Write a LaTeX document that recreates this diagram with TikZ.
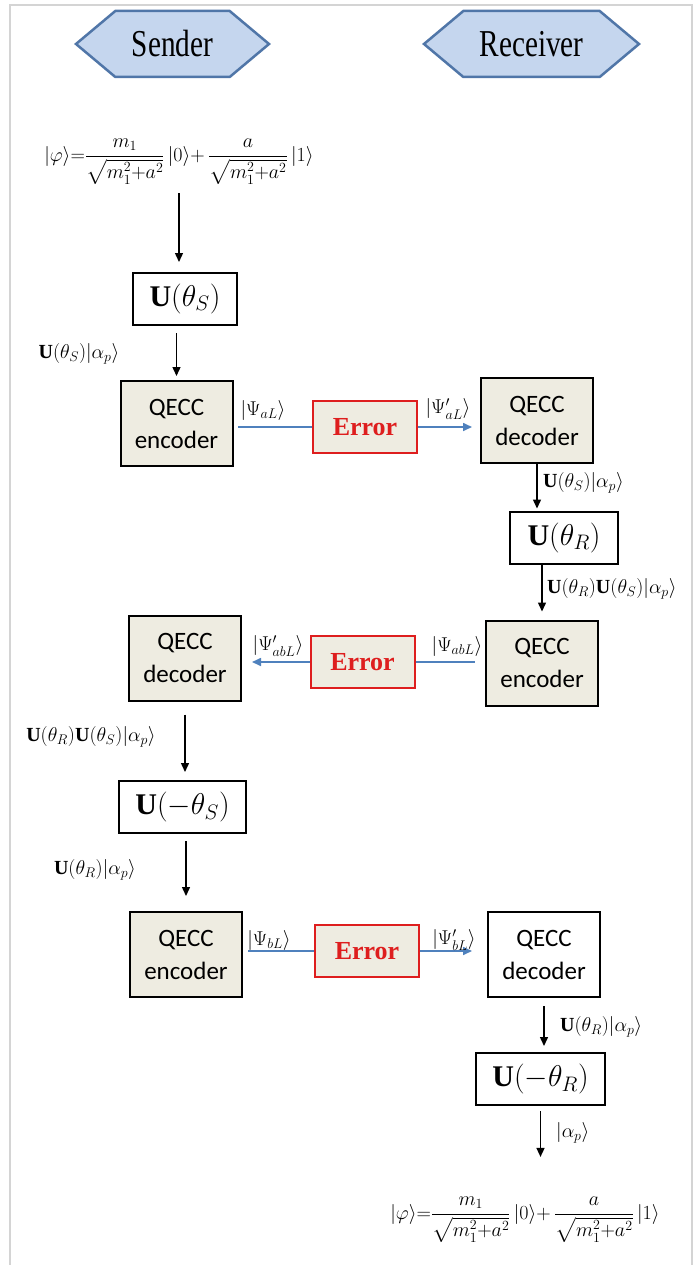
\RequirePackage{fix-cm}
\documentclass[tikz,border=0pt]{standalone}
\usepackage{amsmath}
\usepackage{fontspec}
\setmainfont{Liberation Serif}
\newfontfamily\calibri{Carlito}
\usetikzlibrary{arrows.meta,shapes.symbols,calc}

\definecolor{hexfill}{RGB}{197,214,238}
\definecolor{hexdraw}{RGB}{80,118,168}
\definecolor{beige}{RGB}{238,236,225}
\definecolor{errred}{RGB}{222,30,30}
\definecolor{linkblue}{RGB}{79,129,189}
\definecolor{framegray}{RGB}{212,212,212}

\begin{document}
\begin{tikzpicture}[x=1pt,y=-1pt,
  hexa/.style={signal, signal to=east and west, signal pointer angle=80,
    draw=hexdraw, fill=hexfill, line width=2.5pt, minimum height=66pt,
    inner sep=0pt, font=\fontsize{38}{40}\selectfont},
  box/.style={draw=black, line width=2pt, inner sep=0pt, align=center},
  qecc/.style={box, fill=beige, minimum width=112pt, minimum height=85pt,
    font=\calibri\fontsize{25}{33}\selectfont},
  qeccw/.style={qecc, fill=white},
  ubox/.style={box, fill=white, minimum height=52pt, font=\fontsize{30}{34}\selectfont},
  errbox/.style={draw=errred, line width=2pt, fill=beige, minimum width=104pt,
    minimum height=52pt, inner sep=0pt, text=errred, font=\bfseries\fontsize{26}{30}\selectfont},
  lbl/.style={inner sep=0pt, font=\fontsize{20}{23}\selectfont},
  formula/.style={inner sep=0pt, font=\fontsize{20}{23}\selectfont},
  arr/.style={draw=black, line width=1.4pt, -{Triangle[length=9pt,width=8pt]}},
  bline/.style={draw=linkblue, line width=1.6pt},
  barr/.style={bline, -{Triangle[length=9pt,width=8pt]}}
]
\useasboundingbox (0,0) rectangle (699,1265);
\fill[white] (0,0) rectangle (699,1265);
\draw[framegray, line width=2pt] (10,1265) -- (10,5) -- (692,5) -- (692,1265);

% headers
\node[hexa, minimum width=193pt] (sender) at (172.5,44) {\scalebox{0.77}[1]{Sender}};
\node[hexa, minimum width=215pt] (receiver) at (531.5,44) {\scalebox{0.77}[1]{Receiver}};

% formulas
\node[formula] (f1) at (179,162) {$|\varphi\rangle{=}\dfrac{m_1}{\sqrt{m_1^2{+}a^2}}\,|0\rangle{+}\,\dfrac{a}{\sqrt{m_1^2{+}a^2}}\,|1\rangle$};
\node[formula] (f2) at (525,1220) {$|\varphi\rangle{=}\dfrac{m_1}{\sqrt{m_1^2{+}a^2}}\,|0\rangle{+}\,\dfrac{a}{\sqrt{m_1^2{+}a^2}}\,|1\rangle$};

% boxes
\node[ubox, minimum width=104pt] (us) at (185,299) {$\mathbf{U}(\theta_S)$};
\node[qecc] (enc1) at (176.5,423.5) {QECC\\encoder};
\node[errbox] (err1) at (365,427) {Error};
\node[qecc] (dec1) at (537,420.5) {QECC\\decoder};
\node[ubox, minimum width=108pt] (ur) at (564,537.5) {$\mathbf{U}(\theta_R)$};
\node[qecc] (enc2) at (542,663) {QECC\\encoder};
\node[errbox] (err2) at (362.5,662) {Error};
\node[qecc] (dec2) at (185,658) {QECC\\decoder};
\node[ubox, minimum width=127pt] (uns) at (182.5,807) {$\mathbf{U}(-\theta_S)$};
\node[qecc] (enc3) at (186,954.5) {QECC\\encoder};
\node[errbox] (err3) at (367,951) {Error};
\node[qeccw] (dec3) at (544,954.5) {QECC\\decoder};
\node[ubox, minimum width=129pt] (unr) at (540.5,1079) {$\mathbf{U}(-\theta_R)$};

% vertical arrows
\draw[arr, shorten <=8pt, shorten >=10pt] (f1.south) -- (f1.south |- us.north);
\draw[arr, shorten <=7pt, shorten >=4pt] (us.south -| enc1.north) -- (enc1.north);
\draw[arr, shorten >=2pt] (dec1.south) -- (dec1.south |- ur.north);
\draw[arr, shorten >=8pt] (ur.south -| enc2.north) -- (enc2.north);
\draw[arr, shorten <=13pt, shorten >=8pt] (dec2.south) -- (dec2.south |- uns.north);
\draw[arr, shorten <=7pt, shorten >=15pt] (uns.south -| enc3.north) -- (enc3.north);
\draw[arr, shorten <=8pt, shorten >=6pt] (dec3.south) -- (dec3.south |- unr.north);
\draw[arr, shorten <=5pt, shorten >=40pt] (unr.south) -- (unr.south |- f2.north);

% horizontal links
\draw[bline, shorten >=4pt] (err1.west) -- (err1.west -| enc1.east);
\draw[barr, shorten >=8pt] (err1.east) -- (err1.east -| dec1.west);
\draw[bline, shorten >=10pt] (err2.east) -- (err2.east -| enc2.west);
\draw[barr, shorten >=10pt] (err2.west) -- (err2.west -| dec2.east);
\draw[bline, shorten >=5pt] (err3.west) -- (err3.west -| enc3.east);
\draw[barr, shorten >=15pt] (err3.east) -- (err3.east -| dec3.west);

% labels
\node[lbl] (l1) at (79,354) {$\mathbf{U}(\theta_S)|\alpha_p\rangle$};
\node[lbl, anchor=west] (l2) at (543,483) {$\mathbf{U}(\theta_S)|\alpha_p\rangle$};
\node[lbl, anchor=west] (l3) at (547,589) {$\mathbf{U}(\theta_R)\mathbf{U}(\theta_S)|\alpha_p\rangle$};
\node[lbl] (l4) at (91,737) {$\mathbf{U}(\theta_R)\mathbf{U}(\theta_S)|\alpha_p\rangle$};
\node[lbl] (l5) at (95,870) {$\mathbf{U}(\theta_R)|\alpha_p\rangle$};
\node[lbl, anchor=west] (l6) at (560,1027) {$\mathbf{U}(\theta_R)|\alpha_p\rangle$};
\node[lbl, anchor=west] (l7) at (556,1133) {$|\alpha_p\rangle$};
\node[lbl] (p1) at (263,410) {$|\Psi_{aL}\rangle$};
\node[lbl] (p2) at (448,409) {$|\Psi'_{aL}\rangle$};
\node[lbl] (p3) at (278,646) {$|\Psi'_{abL}\rangle$};
\node[lbl] (p4) at (457,646) {$|\Psi_{abL}\rangle$};
\node[lbl] (p5) at (269,940) {$|\Psi_{bL}\rangle$};
\node[lbl] (p6) at (454,940) {$|\Psi'_{bL}\rangle$};
\end{tikzpicture}
\end{document}
